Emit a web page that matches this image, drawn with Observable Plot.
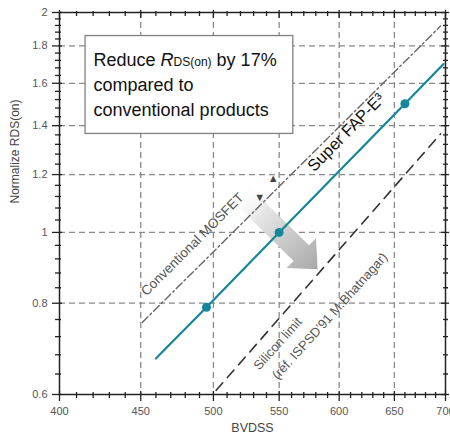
<!DOCTYPE html>
<html><head><meta charset="utf-8">
<script src="https://cdn.jsdelivr.net/npm/d3@7"></script>
<script src="https://cdn.jsdelivr.net/npm/@observablehq/plot@0.6"></script>
<style>html,body{margin:0;padding:0;background:#fff;} svg{display:block}</style>
</head><body><div id="chart"></div>
<script>
// ---- axes ticks ----
const xMajor = [400, 450, 500, 550, 600, 650, 700];
const xMinor = [410,420,430,440,460,470,480,490,510,520,530,540,560,570,580,590,610,620,630,640,660,670,680,690];
const yMajor = [0.6, 0.8, 1, 1.2, 1.4, 1.6, 1.8, 2];
const yMinor = [0.64,0.68,0.72,0.76,0.84,0.88,0.92,0.96,1.04,1.08,1.12,1.16,1.24,1.28,1.32,1.36,1.44,1.48,1.52,1.56,1.64,1.68,1.72,1.76,1.84,1.88,1.92,1.96];
const xGrid = [450, 500, 550, 600, 650];
const yGrid = [0.8, 1, 1.2, 1.4, 1.6, 1.8];

// ---- series ----
const superBV = [460, 495, 550, 660, 698];
const superR  = [0.672, 0.79, 1, 1.5, 1.70];
const dotBV = [495, 550, 660];
const dotR  = [0.79, 1, 1.5];
const convBV = [451, 695];
const convR  = [0.753, 1.916];
const siBV = [502, 695];
const siR  = [0.608, 1.364];

// ---- annotations ----
const labelText = ["Conventional MOSFET", "Super FAP-E\u00B3", "Silicon limit", "(ref. ISPSD'91 M.Bhatnagar)"];
const labelBV = [485, 606, 549, 592];
const labelR  = [0.963, 1.37, 0.704, 0.768];
const markerText = ["\u25B2", "\u25BC"];
const markerBV = [545.3, 534.6];
const markerR  = [1.185, 1.115];
const arrowBV = [518, 582];
const arrowR  = [1.14, 0.889];
const boxBV = [415.4, 561.4];
const boxR  = [1.857, 1.364];
const xTitle = "BVDSS";
const yTitle = "Normalize RDS(on)";

const pts = (xs, ys) => xs.map((x, i) => ({bv: x, r: ys[i]}));
const superData = pts(superBV, superR);
const dotData = pts(dotBV, dotR);
const convData = pts(convBV, convR);
const siData = pts(siBV, siR);
const labels = labelText.map((t, i) => ({t, bv: labelBV[i], r: labelR[i]}));
const markers = markerText.map((t, i) => ({t, bv: markerBV[i], r: markerR[i]}));

const teal = "#15879a";
const font = "'Liberation Sans', Arial, sans-serif";
const axisStroke = {stroke: "#222", strokeWidth: 1.3, label: null};

const chart = Plot.plot({
  width: 450, height: 439,
  marginLeft: 59, marginRight: 5, marginTop: 12, marginBottom: 45,
  x: {type: "log", domain: [400, 700], label: null},
  y: {type: "log", domain: [0.6, 2], label: null},
  style: {fontFamily: font, fontSize: "11px", background: "#fff", color: "#222"},
  marks: [
    Plot.gridX(xGrid, {stroke: "#8a8a8a", strokeOpacity: 1, strokeWidth: 1.3, strokeDasharray: "6,4"}),
    Plot.gridY(yGrid, {stroke: "#8a8a8a", strokeOpacity: 1, strokeWidth: 1.3, strokeDasharray: "6,4"}),
    // bottom axis
    Plot.axisX(xMajor, {anchor: "bottom", tickSize: 7, fill: "none", ...axisStroke}),
    Plot.axisX(xMajor, {anchor: "bottom", tickSize: -3, fill: "none", ...axisStroke}),
    Plot.axisX(xMinor, {anchor: "bottom", tickSize: 4, fill: "none", ...axisStroke}),
    Plot.axisX(xMinor, {anchor: "bottom", tickSize: -2, fill: "none", ...axisStroke}),
    Plot.text(xMajor, {x: d => d, frameAnchor: "bottom", dy: 20, text: d => String(d), fill: "#555", fontSize: 11}),
    // top axis
    Plot.axisX(xMajor, {anchor: "top", tickSize: 3, fill: "none", ...axisStroke}),
    Plot.axisX(xMajor, {anchor: "top", tickSize: -5, fill: "none", ...axisStroke}),
    Plot.axisX(xMinor, {anchor: "top", tickSize: 2, fill: "none", ...axisStroke}),
    Plot.axisX(xMinor, {anchor: "top", tickSize: -3, fill: "none", ...axisStroke}),
    // left axis
    Plot.axisY(yMajor, {anchor: "left", tickSize: 7, tickPadding: 5, tickFormat: d => String(d), fill: "#555", ...axisStroke}),
    Plot.axisY(yMajor, {anchor: "left", tickSize: -3, fill: "none", ...axisStroke}),
    Plot.axisY(yMinor, {anchor: "left", tickSize: 4, fill: "none", ...axisStroke}),
    Plot.axisY(yMinor, {anchor: "left", tickSize: -2, fill: "none", ...axisStroke}),
    // right axis
    Plot.axisY(yMajor, {anchor: "right", tickSize: 3, fill: "none", ...axisStroke}),
    Plot.axisY(yMajor, {anchor: "right", tickSize: -5, fill: "none", ...axisStroke}),
    Plot.axisY(yMinor, {anchor: "right", tickSize: 2, fill: "none", ...axisStroke}),
    Plot.axisY(yMinor, {anchor: "right", tickSize: -3, fill: "none", ...axisStroke}),
    Plot.frame({stroke: "#222", strokeWidth: 1.5}),
    // lines
    Plot.line(convData, {x: "bv", y: "r", stroke: "#666", strokeWidth: 1.4, strokeDasharray: "8,3,2,3"}),
    Plot.line(siData, {x: "bv", y: "r", stroke: "#333", strokeWidth: 1.6, strokeDasharray: "10,7"}),
    Plot.line(superData, {x: "bv", y: "r", stroke: teal, strokeWidth: 2.2}),
    Plot.dot(dotData, {x: "bv", y: "r", r: 4.5, fill: teal, stroke: "none"}),
    // labels
    Plot.text(labels.slice(0, 1), {x: "bv", y: "r", text: "t", rotate: -45, fontSize: 13.5, fill: "#555"}),
    Plot.text(labels.slice(1, 2), {x: "bv", y: "r", text: "t", rotate: -45.5, fontSize: 16.5, fill: "#111"}),
    Plot.text(labels.slice(2, 4), {x: "bv", y: "r", text: "t", rotate: -48, fontSize: 13, fill: "#555"}),
    Plot.text(markers, {x: "bv", y: "r", text: "t", fontSize: 11, fill: "#444"}),
    // titles
    Plot.text([xTitle], {frameAnchor: "bottom", dy: 37, fontSize: 12.5, fill: "#444"}),
    Plot.text([yTitle], {frameAnchor: "left", dx: -44, rotate: -90, fontSize: 12, fill: "#444"})
  ]
});

document.getElementById("chart").append(chart);

// ---- gradient arrow & annotation box positioned through the chart's scales ----
const sx = chart.scale("x"), sy = chart.scale("y");
const svg = d3.select(chart);
const ax0 = sx.apply(arrowBV[0]), ay0 = sy.apply(arrowR[0]);
const ax1 = sx.apply(arrowBV[1]), ay1 = sy.apply(arrowR[1]);
const L = Math.hypot(ax1 - ax0, ay1 - ay0);
const ux = (ax1 - ax0) / L, uy = (ay1 - ay0) / L, px = -uy, py = ux;
const headLen = 23, headW = 21, shaftW = 11;
const bx = ax1 - ux * headLen, by = ay1 - uy * headLen;
const poly = [
  [ax0 + px * shaftW, ay0 + py * shaftW],
  [bx + px * shaftW, by + py * shaftW],
  [bx + px * headW, by + py * headW],
  [ax1, ay1],
  [bx - px * headW, by - py * headW],
  [bx - px * shaftW, by - py * shaftW],
  [ax0 - px * shaftW, ay0 - py * shaftW]
];
const defs = svg.append("defs");
const grad = defs.append("linearGradient").attr("id", "arrowGrad")
  .attr("gradientUnits", "userSpaceOnUse")
  .attr("x1", ax0).attr("y1", ay0).attr("x2", ax1).attr("y2", ay1);
grad.append("stop").attr("offset", 0).attr("stop-color", "#ffffff").attr("stop-opacity", 0);
grad.append("stop").attr("offset", 0.3).attr("stop-color", "#e6e6e6").attr("stop-opacity", 1);
grad.append("stop").attr("offset", 1).attr("stop-color", "#a8a8a8").attr("stop-opacity", 1);
svg.insert("g", "[aria-label='line']")
  .append("polygon")
  .attr("points", poly.map(p => p.join(",")).join(" "))
  .attr("fill", "url(#arrowGrad)");

const bx0 = sx.apply(boxBV[0]), bx1 = sx.apply(boxBV[1]);
const by0 = sy.apply(boxR[0]), by1 = sy.apply(boxR[1]);
const box = svg.append("g").attr("text-anchor", "start");
box.append("rect").attr("x", bx0).attr("y", by0).attr("width", bx1 - bx0).attr("height", by1 - by0)
  .attr("fill", "#fff").attr("stroke", "#808080").attr("stroke-width", 1.3);
const tx = bx0 + 8.5;
const textAttrs = sel => sel.attr("x", tx).attr("font-size", 18).attr("fill", "#111")
  .attr("font-family", font).attr("text-anchor", "start");
const t1 = box.append("text").call(textAttrs).attr("y", by0 + 30);
t1.append("tspan").text("Reduce ");
t1.append("tspan").attr("font-style", "italic").text("R");
t1.append("tspan").attr("font-size", 12).text("DS(on)");
t1.append("tspan").text(" by 17%");
box.append("text").call(textAttrs).attr("y", by0 + 55).text("compared to");
box.append("text").call(textAttrs).attr("y", by0 + 80).text("conventional products");
</script>
</body></html>
